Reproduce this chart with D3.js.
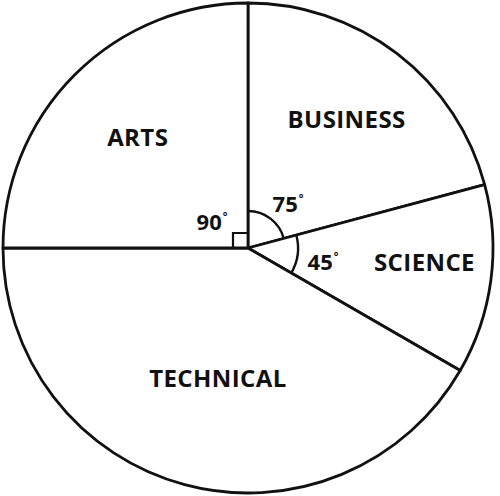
<!DOCTYPE html>
<html><head><meta charset="utf-8">
<script src="https://cdn.jsdelivr.net/npm/d3@7"></script>
<style>body{margin:0;background:#fff}svg{display:block}</style>
</head><body>
<svg id="c" width="500" height="496"></svg>
<script>
const categories = ["BUSINESS", "SCIENCE", "TECHNICAL", "ARTS"];
const degrees = [75, 45, 150, 90];
const angleLabels = ["75", "45", null, "90"];

const W = 500, H = 496, cx = 248, cy = 248, R = 245;
const svg = d3.select("#c");
const g = svg.append("g").attr("transform", `translate(${cx},${cy})`);

const data = categories.map((c, i) => ({ name: c, value: degrees[i], angle: angleLabels[i] }));
const pie = d3.pie().sort(null).value(d => d.value).startAngle(0).endAngle(2 * Math.PI);
const arcs = pie(data);
const arc = d3.arc().innerRadius(0).outerRadius(R);

g.selectAll("path.slice").data(arcs).join("path")
  .attr("class", "slice")
  .attr("d", arc)
  .attr("fill", "#fff")
  .attr("stroke", "#111")
  .attr("stroke-width", 2.8)
  .attr("stroke-linejoin", "round");

// category label placement (radius, angle tweak in degrees)
const labelPos = { BUSINESS: [162, 0], SCIENCE: [177, -3], TECHNICAL: [134, -2], ARTS: [156, 0] };
const font = "'Open Sans', sans-serif";
function lp(d) {
  const p = labelPos[d.data.name];
  const a = (d.startAngle + d.endAngle) / 2 + p[1] * Math.PI / 180;
  return [Math.sin(a) * p[0], -Math.cos(a) * p[0]];
}
g.selectAll("text.cat").data(arcs).join("text")
  .attr("class", "cat")
  .attr("x", d => lp(d)[0])
  .attr("y", d => lp(d)[1])
  .attr("dy", "0.36em")
  .attr("text-anchor", "middle")
  .attr("font-family", font)
  .attr("font-weight", 700)
  .attr("font-size", 24)
  .attr("letter-spacing", 0.4)
  .attr("fill", "#111")
  .text(d => d.data.name);

// angle arcs
const markR = { BUSINESS: 37, SCIENCE: 50 };
arcs.filter(d => markR[d.data.name]).forEach(d => {
  g.append("path")
    .attr("d", d3.arc().innerRadius(markR[d.data.name]).outerRadius(markR[d.data.name])
      .startAngle(d.startAngle).endAngle(d.endAngle)())
    .attr("fill", "none").attr("stroke", "#111").attr("stroke-width", 2.4);
});
// right angle mark for ARTS
const arts = arcs.find(d => d.data.name === "ARTS");
if (arts) {
  const s = 15;
  g.append("path")
    .attr("d", `M${-s},0 L${-s},${-s} L0,${-s}`)
    .attr("fill", "none").attr("stroke", "#111").attr("stroke-width", 2.2);
}

// angle value labels
const angPos = { BUSINESS: [40, -44], SCIENCE: [75, 14], ARTS: [-36, -26] };
arcs.filter(d => d.data.angle).forEach(d => {
  const p = angPos[d.data.name];
  const t = g.append("text")
    .attr("x", p[0]).attr("y", p[1]).attr("dy", "0.36em")
    .attr("text-anchor", "middle")
    .attr("font-family", font).attr("font-weight", 700).attr("font-size", 22)
    .attr("fill", "#111");
  t.append("tspan").text(d.data.angle);
  t.append("tspan").attr("font-size", 11).attr("dy", "-0.9em").attr("dx", 1).text("°");
});
</script>
</body></html>
